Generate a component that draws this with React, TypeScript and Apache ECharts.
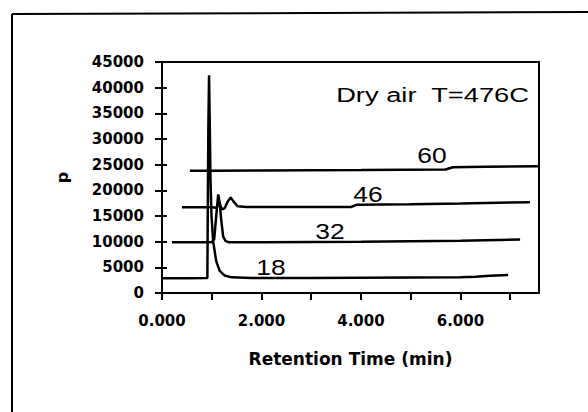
import React, { useEffect, useRef } from "react";
import * as echarts from "echarts";

// ---- data (retention time in min, p) ----
const series18: [number, number][] = [
  [0, 2850], [0.5, 2850], [0.912, 2900], [0.92, 15000], [0.932, 32000], [0.946, 42400],
  [0.96, 33000], [0.975, 22000], [0.995, 15000], [1.03, 10000], [1.09, 6200], [1.16, 4300],
  [1.26, 3400], [1.4, 3050], [1.8, 2900], [3.0, 2900], [4.0, 2950], [5.0, 3000],
  [6.0, 3050], [6.3, 3150], [6.6, 3350], [6.96, 3500],
];
const series32: [number, number][] = [
  [0.2, 9900], [0.6, 9900], [1.0, 9900], [1.05, 10500], [1.09, 15000], [1.13, 19200],
  [1.16, 17500], [1.19, 14300], [1.23, 11000], [1.28, 10100], [1.35, 9900], [2.0, 9900],
  [3.0, 9950], [4.0, 10000], [5.0, 10100], [6.0, 10200], [7.2, 10400],
];
const series46: [number, number][] = [
  [0.4, 16700], [1.0, 16700], [1.1, 16600], [1.15, 17800], [1.2, 16300], [1.26, 16500],
  [1.32, 17800], [1.38, 18600], [1.44, 17800], [1.52, 16900], [1.7, 16750], [3.8, 16750],
  [3.92, 17200], [5.0, 17300], [6.0, 17450], [7.4, 17700],
];
const series60: [number, number][] = [
  [0.56, 23800], [1.0, 23800], [2.0, 23850], [3.0, 23900], [4.0, 23950], [5.7, 24050],
  [5.85, 24500], [6.5, 24600], [7.58, 24700],
];
const seriesNames = ["18", "32", "46", "60"];
const xTicks = [0, 1, 2, 3, 4, 5, 6, 7];
const xLabels = [0, 2, 4, 6];
const X_MAX = 7.58;
const Y_MAX = 45000;
const Y_STEP = 5000;
const annotation = "Dry air  T=476C";

export default function App() {
  const ref = useRef<HTMLDivElement>(null);
  useEffect(() => {
    if (!ref.current) return;
    const chart = echarts.init(ref.current, null, { renderer: "svg" });
    const tickFont = { fontFamily: "DejaVu Sans", fontWeight: "bold" as const, fontSize: 15, color: "#000" };
    const annFont = "22px 'Liberation Sans', Arial, sans-serif";
    const numLabel = (text: string, x: number, y: number) => ({
      type: "text",
      x,
      y,
      scaleX: 1.2,
      style: { text, font: annFont, fill: "#000", align: "center", verticalAlign: "middle", textAlign: "center", textVerticalAlign: "middle" },
    });
    const data = [series18, series32, series46, series60];
    const axisLineStyle = () => ({ show: true, onZero: false, lineStyle: { color: "#000", width: 2 } });
    chart.setOption({
      animation: false,
      backgroundColor: "#fff",
      grid: { left: 162, top: 62, right: 49, bottom: 119, containLabel: false },
      xAxis: [
        {
          type: "value",
          min: 0,
          max: X_MAX,
          interval: 1,
          position: "bottom",
          name: "Retention Time (min)",
          nameLocation: "middle",
          nameGap: 57,
          nameTextStyle: { fontFamily: "DejaVu Sans", fontWeight: "bold", fontSize: 17, color: "#000" },
          axisLine: axisLineStyle(),
          axisTick: { show: true, length: 7, lineStyle: { color: "#000", width: 2 }, customValues: xTicks },
          axisLabel: {
            ...tickFont,
            margin: 20,
            customValues: xLabels,
            formatter: (v: number) => (xLabels.includes(v) ? v.toFixed(3) : ""),
          },
          splitLine: { show: false },
        },
        {
          type: "value",
          gridIndex: 0,
          min: 0,
          max: X_MAX,
          interval: 1,
          position: "top",
          show: true,
          axisLine: axisLineStyle(),
          axisTick: { show: false },
          axisLabel: { show: false },
          splitLine: { show: false },
        },
      ],
      yAxis: [
        {
          type: "value",
          min: 0,
          max: Y_MAX,
          interval: Y_STEP,
          position: "left",
          name: "p",
          nameLocation: "middle",
          nameGap: 92,
          nameRotate: 90,
          nameTextStyle: { fontFamily: "DejaVu Sans", fontWeight: "bold", fontSize: 16, color: "#000" },
          axisLine: axisLineStyle(),
          axisTick: { show: true, length: 7, lineStyle: { color: "#000", width: 2 } },
          axisLabel: { ...tickFont, margin: 18, formatter: (v: number) => String(v) },
          splitLine: { show: false },
        },
        {
          type: "value",
          min: 0,
          max: Y_MAX,
          interval: Y_STEP,
          position: "left",
          offset: 0,
          axisLine: { show: false },
          axisTick: { show: true, inside: true, length: 5, lineStyle: { color: "#000", width: 2 } },
          axisLabel: { show: false },
          splitLine: { show: false },
        },
        {
          type: "value",
          min: 0,
          max: Y_MAX,
          interval: Y_STEP,
          position: "right",
          offset: 0,
          axisLine: axisLineStyle(),
          axisTick: { show: false },
          axisLabel: { show: false },
          splitLine: { show: false },
        },
      ],
      series: [
        ...data.map((d, i) => ({
          name: seriesNames[i],
          type: "line",
          data: d,
          showSymbol: false,
          symbol: "none",
          lineStyle: { color: "#000", width: 2.5 },
          itemStyle: { color: "#000" },
          xAxisIndex: 0,
          yAxisIndex: 0,
        })),
      ],
      graphic: {
        elements: [
          { type: "line", shape: { x1: 12, y1: 14, x2: 12, y2: 412 }, style: { stroke: "#000", lineWidth: 2 } },
          { type: "line", shape: { x1: 12, y1: 14, x2: 588, y2: 12 }, style: { stroke: "#000", lineWidth: 2 } },
          { type: "rect", shape: { x: 162, y: 61, width: 377, height: 2 }, style: { fill: "#000" } },
          {
            type: "text",
            x: 529,
            y: 95,
            scaleX: 1.3,
            style: { text: annotation, font: "21px 'Liberation Sans', Arial, sans-serif", fill: "#000", align: "right", verticalAlign: "middle", textAlign: "right", textVerticalAlign: "middle" },
          },
          numLabel(seriesNames[3], 432, 155),
          numLabel(seriesNames[2], 368, 194),
          numLabel(seriesNames[1], 330, 231),
          numLabel(seriesNames[0], 271, 267),
        ],
      },
    });
    return () => chart.dispose();
  }, []);
  return <div ref={ref} style={{ position: "fixed", left: 0, top: 0, width: 588, height: 412 }} />;
}
